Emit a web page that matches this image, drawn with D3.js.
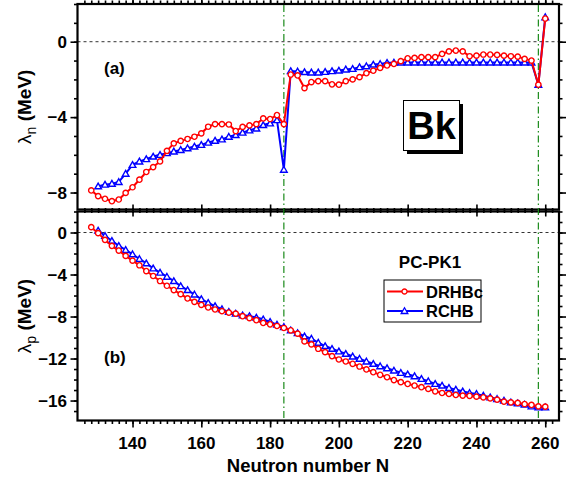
<!DOCTYPE html>
<html>
<head>
<meta charset="utf-8">
<script src="https://cdn.jsdelivr.net/npm/d3@7"></script>
<style>
  body { margin: 0; background: #fff; }
  svg text { font-family: "Liberation Sans", Arial, sans-serif; font-weight: bold; }
</style>
</head>
<body>
<svg width="585" height="477"></svg>
<script>
// neutron numbers of the two calculations
const nDRHBc = d3.range(128, 261, 2)
const nRCHB = d3.range(130, 261, 2)

// lambda_n (MeV), panel (a)
const lnDRHBc = [-7.89, -8.19, -8.33, -8.46, -8.37, -8.02, -7.72, -7.32, -6.91, -6.65, -6.35, -5.79, -5.39, -5.26, -5.16, -5.04, -4.86, -4.51, -4.37, -4.37, -4.39, -4.74,
  -4.52, -4.44, -4.37, -4.07, -4.10, -3.89, -4.37, -1.74, -1.79, -2.46, -2.14, -2.09, -2.09, -2.26, -2.28, -2.09, -2.00, -1.88, -1.67, -1.54, -1.39, -1.26,
  -1.18, -1.03, -0.88, -0.86, -0.82, -0.82, -0.82, -0.65, -0.51, -0.47, -0.51, -0.77, -0.74, -0.68, -0.68, -0.70, -0.74, -0.77, -0.79, -0.91, -1.00, -2.28,
  1.23]
const lnRCHB = [-7.67, -7.58, -7.53, -7.44, -7.00, -6.53, -6.35, -6.23, -6.09, -6.00, -5.91, -5.82, -5.74, -5.65, -5.56, -5.47, -5.35, -5.25, -5.18, -5.04, -4.95,
  -4.82, -4.70, -4.60, -4.42, -4.33, -4.16, -6.79, -1.56, -1.58, -1.61, -1.63, -1.63, -1.60, -1.56, -1.53, -1.47, -1.44, -1.35, -1.30, -1.21, -1.18, -1.12,
  -1.11, -1.10, -1.10, -1.10, -1.10, -1.10, -1.10, -1.10, -1.10, -1.10, -1.10, -1.10, -1.10, -1.10, -1.10, -1.10, -1.10, -1.10, -1.10, -1.10, -1.10, -2.28,
  1.30]

// lambda_p (MeV), panel (b)
const lpDRHBc = [0.51, -0.06, -0.70, -1.27, -1.72, -2.23, -2.68, -3.12, -3.67, -4.14, -4.62, -5.07, -5.48, -5.87, -6.28, -6.60, -6.89, -7.14, -7.33, -7.49, -7.62, -7.72,
  -7.97, -8.15, -8.35, -8.61, -8.74, -8.90, -9.09, -9.31, -9.63, -10.37, -10.65, -11.07, -11.39, -11.77, -12.09, -12.28, -12.50, -12.76, -13.04, -13.30, -13.55, -13.78,
  -14.05, -14.25, -14.42, -14.57, -14.73, -14.89, -15.12, -15.28, -15.37, -15.47, -15.53, -15.55, -15.63, -15.69, -15.79, -15.91, -16.10, -16.17, -16.23, -16.33, -16.42, -16.55,
  -16.58]
const lpRCHB = [0.19, -0.32, -0.79, -1.27, -1.66, -2.07, -2.52, -2.93, -3.41, -3.82, -4.21, -4.62, -5.10, -5.48, -5.90, -6.34, -6.70, -7.01, -7.30, -7.56, -7.72,
  -7.88, -7.95, -8.10, -8.26, -8.51, -8.77, -8.99, -9.31, -9.57, -9.88, -10.11, -10.49, -10.81, -11.07, -11.32, -11.55, -11.80, -12.02, -12.28, -12.50, -12.73, -12.92,
  -13.14, -13.36, -13.50, -13.68, -13.94, -14.16, -14.41, -14.57, -14.80, -14.96, -15.12, -15.28, -15.37, -15.53, -15.69, -15.85, -16.01, -16.17, -16.27, -16.39, -16.55, -16.65,
  -16.65]

const xTicks = [140, 160, 180, 200, 220, 240, 260]
const ynTicks = [0, -4, -8]
const ypTicks = [0, -4, -8, -12, -16]
const magicN = [184, 258]
const seriesNames = ["DRHBc", "RCHB"]

const svg = d3.select("svg")
const left = 77.5, right = 559

const x = d3.scaleLinear().domain([124, 264]).range([left, right])
const yA = d3.scaleLinear().domain([-8.9, 2]).range([209.5, 4])
const yB = d3.scaleLinear().domain([-17.9, 2]).range([420.5, 211.5])

function minus(v) { return String(v).replace("-", "\u2212") }

function frame(y, top, bottom, ticks, title, tag, tagY, showX) {
    const g = svg.append("g")
    // dotted zero line
    g.append("line")
        .attr("x1", left).attr("x2", right)
        .attr("y1", y(0)).attr("y2", y(0))
        .attr("stroke", "#333").attr("stroke-width", 1)
        .attr("stroke-dasharray", "3,3")

    const minorX = d3.range(126, 264, 2)
    const minorY = d3.range(Math.ceil(y.domain()[0]), y.domain()[1] + 0.01, 1)

    const axes = [
        [d3.axisBottom(x), `translate(0,${top})`],
        [d3.axisTop(x), `translate(0,${bottom})`]
    ]
    axes.forEach(([ax, tr]) => {
        g.append("g").attr("transform", tr)
            .call(ax.tickValues(minorX).tickSize(-3.5).tickFormat(""))
        g.append("g").attr("transform", tr)
            .call(ax.tickValues(xTicks).tickSize(-7).tickFormat(""))
    })
    const yaxes = [
        [d3.axisRight(y), `translate(${left},0)`],
        [d3.axisLeft(y), `translate(${right},0)`]
    ]
    yaxes.forEach(([ax, tr]) => {
        g.append("g").attr("transform", tr)
            .call(ax.tickValues(minorY).tickSize(-3.5).tickFormat(""))
        g.append("g").attr("transform", tr)
            .call(ax.tickValues(ticks).tickSize(-7).tickFormat(""))
    })
    g.selectAll(".domain").remove()
    g.selectAll(".tick line").attr("stroke", "#000").attr("stroke-width", 1.6)

    g.append("rect")
        .attr("x", left).attr("y", top)
        .attr("width", right - left).attr("height", bottom - top)
        .attr("fill", "none").attr("stroke", "#000").attr("stroke-width", 2.2)

    // y tick labels
    g.selectAll(".ylab").data(ticks).enter().append("text")
        .attr("x", 67).attr("y", d => y(d) + 6)
        .attr("text-anchor", "end").attr("font-size", 17)
        .text(d => minus(d))

    if (showX) {
        g.selectAll(".xlab").data(xTicks).enter().append("text")
            .attr("x", d => x(d)).attr("y", 449)
            .attr("text-anchor", "middle").attr("font-size", 17)
            .text(d => d)
    }

    // y title
    const cy = (top + bottom) / 2
    const t = g.append("text")
        .attr("transform", `translate(31,${cy}) rotate(-90)`)
        .attr("text-anchor", "middle").attr("font-size", 19)
    t.append("tspan").attr("font-weight", "normal").text("\u03bb")
    t.append("tspan").attr("font-weight", "normal").attr("font-size", 14).attr("dy", 5).text(title)
    t.append("tspan").attr("dy", -5).text(" (MeV)")

    g.append("text").attr("x", 104).attr("y", tagY)
        .attr("font-size", 17).text(tag)
}

frame(yA, 4, 209.5, ynTicks, "n", "(a)", 74, false)
frame(yB, 211.5, 420.5, ypTicks, "p", "(b)", 363, true)

// green dash-dot lines
svg.selectAll(".magic").data(magicN).enter().append("line")
    .attr("x1", d => x(d)).attr("x2", d => x(d))
    .attr("y1", 5).attr("y2", 419)
    .attr("stroke", "#1a8a1a").attr("stroke-width", 1.2)
    .attr("stroke-dasharray", "7,3,1.5,3")

function series(y, ns, vals, clr, shape) {
    const pts = ns.map((n, i) => [n, vals[i]])
    svg.append("path")
        .attr("d", d3.line().x(d => x(d[0])).y(d => y(d[1]))(pts))
        .attr("fill", "none").attr("stroke", clr).attr("stroke-width", 2)
    const sym = d3.symbol().type(shape === "tri" ? d3.symbolTriangle : d3.symbolCircle)
        .size(shape === "tri" ? 19 : 22)
    svg.selectAll(null).data(pts).enter().append("path")
        .attr("d", sym)
        .attr("transform", d => `translate(${x(d[0])},${y(d[1]) + (shape === "tri" ? 0.6 : 0)})`)
        .attr("fill", "#fff").attr("stroke", clr).attr("stroke-width", 1.4)
}

series(yA, nRCHB, lnRCHB, "#0000ff", "tri")
series(yA, nDRHBc, lnDRHBc, "#ff0000", "circ")
series(yB, nRCHB, lpRCHB, "#0000ff", "tri")
series(yB, nDRHBc, lpDRHBc, "#ff0000", "circ")

// Bk label box with shadow
svg.append("rect").attr("x", 407).attr("y", 104).attr("width", 56).attr("height", 50).attr("fill", "#000")
svg.append("rect").attr("x", 403.5).attr("y", 100.5).attr("width", 56).attr("height", 50)
    .attr("fill", "#fff").attr("stroke", "#000").attr("stroke-width", 1)
svg.append("text").attr("x", 431.5).attr("y", 138.5).attr("text-anchor", "middle")
    .attr("font-size", 38).text("Bk")

// legend
svg.append("text").attr("x", 430).attr("y", 268).attr("text-anchor", "middle")
    .attr("font-size", 17).text("PC-PK1")
svg.append("rect").attr("x", 384).attr("y", 280).attr("width", 97).attr("height", 42)
    .attr("fill", "#fff").attr("stroke", "#000").attr("stroke-width", 1)
const legClr = ["#ff0000", "#0000ff"]
seriesNames.forEach((name, i) => {
    const ly = 291.5 + i * 19.5
    svg.append("line").attr("x1", 387).attr("x2", 423).attr("y1", ly).attr("y2", ly)
        .attr("stroke", legClr[i]).attr("stroke-width", 2)
    svg.append("path")
        .attr("d", d3.symbol().type(i === 0 ? d3.symbolCircle : d3.symbolTriangle).size(i === 0 ? 20 : 19))
        .attr("transform", `translate(404.5,${ly + (i === 0 ? 0 : 0.6)})`)
        .attr("fill", "#fff").attr("stroke", legClr[i]).attr("stroke-width", 1.3)
    svg.append("text").attr("x", 426).attr("y", ly + 6).attr("font-size", 16.5).text(name)
})

// x title
svg.append("text").attr("x", 308).attr("y", 472).attr("text-anchor", "middle")
    .attr("font-size", 18.5).text("Neutron number N")
</script>
</body>
</html>
